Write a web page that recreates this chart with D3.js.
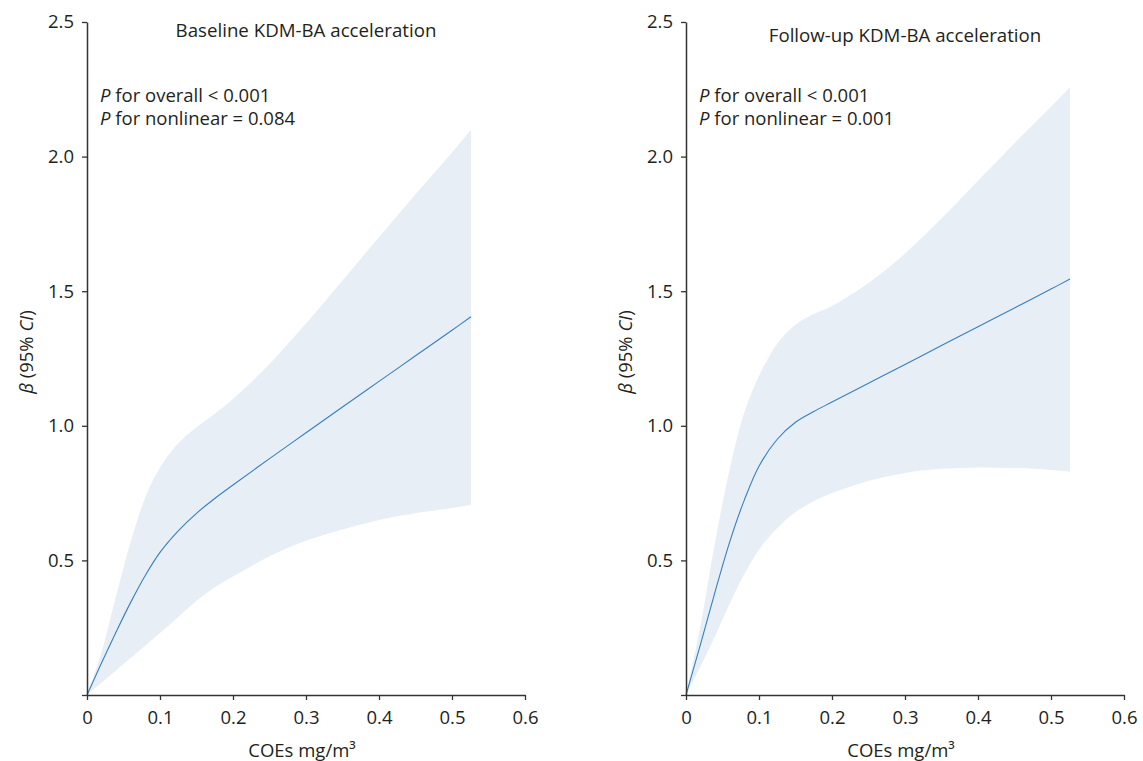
<!DOCTYPE html>
<html>
<head>
<meta charset="utf-8">
<script src="https://cdn.jsdelivr.net/npm/d3@7"></script>
<style>
  body { margin: 0; background: white; }
  text { font-family: "Open Sans", "Noto Sans", sans-serif; fill: #231f20; }
</style>
</head>
<body>
<div id="viz-container"></div>
<script>
let svgWidth = 1143;
let svgHeight = 761;

// coe levels where the curves were read
let coeLevels = [0, 0.02, 0.04, 0.06, 0.08, 0.1, 0.125, 0.15, 0.175, 0.2, 0.25, 0.3, 0.35, 0.4, 0.45, 0.5, 0.526];

// baseline KDM-BA acceleration
let baseFit   = [0, 0.12, 0.235, 0.345, 0.445, 0.53, 0.61, 0.675, 0.73, 0.78, 0.878, 0.974, 1.07, 1.165, 1.26, 1.355, 1.405];
let baseUpper = [0, 0.16, 0.37, 0.57, 0.735, 0.845, 0.935, 0.995, 1.045, 1.10, 1.23, 1.38, 1.54, 1.70, 1.86, 2.015, 2.10];
let baseLower = [0, 0.046, 0.092, 0.138, 0.184, 0.23, 0.29, 0.35, 0.40, 0.44, 0.515, 0.573, 0.615, 0.65, 0.675, 0.695, 0.707];

// follow-up KDM-BA acceleration
let followFit   = [0, 0.19, 0.385, 0.57, 0.725, 0.85, 0.95, 1.013, 1.053, 1.088, 1.158, 1.228, 1.298, 1.368, 1.438, 1.508, 1.545];
let followUpper = [0, 0.26, 0.57, 0.84, 1.05, 1.185, 1.305, 1.375, 1.415, 1.445, 1.53, 1.64, 1.77, 1.91, 2.05, 2.185, 2.258];
let followLower = [0, 0.107, 0.22, 0.34, 0.45, 0.54, 0.62, 0.68, 0.72, 0.75, 0.795, 0.825, 0.84, 0.845, 0.843, 0.836, 0.83];

let xTicks = [0, 0.1, 0.2, 0.3, 0.4, 0.5, 0.6];
let yTicks = [0, 0.5, 1.0, 1.5, 2.0, 2.5];

let panels = [
  {title: "Baseline KDM-BA acceleration", pOverall: " for overall < 0.001", pNonlin: " for nonlinear = 0.084",
   fit: baseFit, upper: baseUpper, lower: baseLower, left: 87, right: 525, titleY: 37},
  {title: "Follow-up KDM-BA acceleration", pOverall: " for overall < 0.001", pNonlin: " for nonlinear = 0.001",
   fit: followFit, upper: followUpper, lower: followLower, left: 686, right: 1124, titleY: 42}
];

let viz = d3.select("#viz-container")
  .append("svg")
    .attr("width", svgWidth)
    .attr("height", svgHeight)
    .style("background-color", "white");

let plotTop = 22;
let plotBottom = 695;
let fontSize = 18.5;

panels.forEach(drawPanel);

function drawPanel(p){
  let x = d3.scaleLinear().domain([0, 0.6]).range([p.left, p.right]);
  let y = d3.scaleLinear().domain([0, 2.5]).range([plotBottom, plotTop]);

  let rows = coeLevels.map(function(c, i){
    return {c: c, fit: p.fit[i], lo: p.lower[i], hi: p.upper[i]};
  });

  let band = d3.area()
    .x(d => x(d.c))
    .y0(d => y(d.lo))
    .y1(d => y(d.hi))
    .curve(d3.curveCatmullRom.alpha(0.5));

  let line = d3.line()
    .x(d => x(d.c))
    .y(d => y(d.fit))
    .curve(d3.curveCatmullRom.alpha(0.5));

  viz.append("path")
    .datum(rows)
    .attr("d", band)
    .attr("fill", "#e7eef5");

  viz.append("path")
    .datum(rows)
    .attr("d", line)
    .attr("fill", "none")
    .attr("stroke", "#3580c0")
    .attr("stroke-width", 1.1);

  // axes
  let xAxis = d3.axisBottom(x)
    .tickValues(xTicks)
    .tickSizeOuter(0)
    .tickSizeInner(5)
    .tickPadding(11)
    .tickFormat(d => d === 0 ? "0" : d3.format(".1f")(d));

  let yAxis = d3.axisLeft(y)
    .tickValues(yTicks)
    .tickSizeOuter(0)
    .tickSizeInner(5)
    .tickPadding(8)
    .tickFormat(d => d === 0 ? "" : d3.format(".1f")(d));

  let gx = viz.append("g")
    .attr("transform", "translate(0," + plotBottom + ")")
    .call(xAxis);
  let gy = viz.append("g")
    .attr("transform", "translate(" + p.left + ",0)")
    .call(yAxis);

  [gx, gy].forEach(function(g){
    g.selectAll("path").attr("stroke", "#333").attr("stroke-width", 1.5);
    g.selectAll("line").attr("stroke", "#333").attr("stroke-width", 1.3);
    g.selectAll("text")
      .attr("font-size", fontSize)
      .attr("font-family", "Open Sans")
      .attr("fill", "#231f20");
  });

  // title
  viz.append("text")
    .attr("x", (p.left + p.right) / 2)
    .attr("y", p.titleY)
    .attr("text-anchor", "middle")
    .attr("font-size", 18.7)
    .text(p.title);

  // p-values
  let ann = viz.append("text")
    .attr("x", p.left + 13)
    .attr("y", 102)
    .attr("font-size", fontSize);
  ann.append("tspan").attr("font-style", "italic").text("P");
  ann.append("tspan").text(p.pOverall);

  let ann2 = viz.append("text")
    .attr("x", p.left + 13)
    .attr("y", 125)
    .attr("font-size", fontSize);
  ann2.append("tspan").attr("font-style", "italic").text("P");
  ann2.append("tspan").text(p.pNonlin);

  // x label
  viz.append("text")
    .attr("x", (p.left + p.right) / 2 - 4)
    .attr("y", 757)
    .attr("text-anchor", "middle")
    .attr("font-size", fontSize)
    .text("COEs mg/m³");

  // y label
  let yl = viz.append("text")
    .attr("transform", "translate(" + (p.left - 54) + ",352) rotate(-90)")
    .attr("text-anchor", "middle")
    .attr("font-size", fontSize);
  yl.append("tspan").attr("font-style", "italic").text("β");
  yl.append("tspan").text(" (95% ");
  yl.append("tspan").attr("font-style", "italic").text("CI");
  yl.append("tspan").text(")");
}
</script>
</body>
</html>
